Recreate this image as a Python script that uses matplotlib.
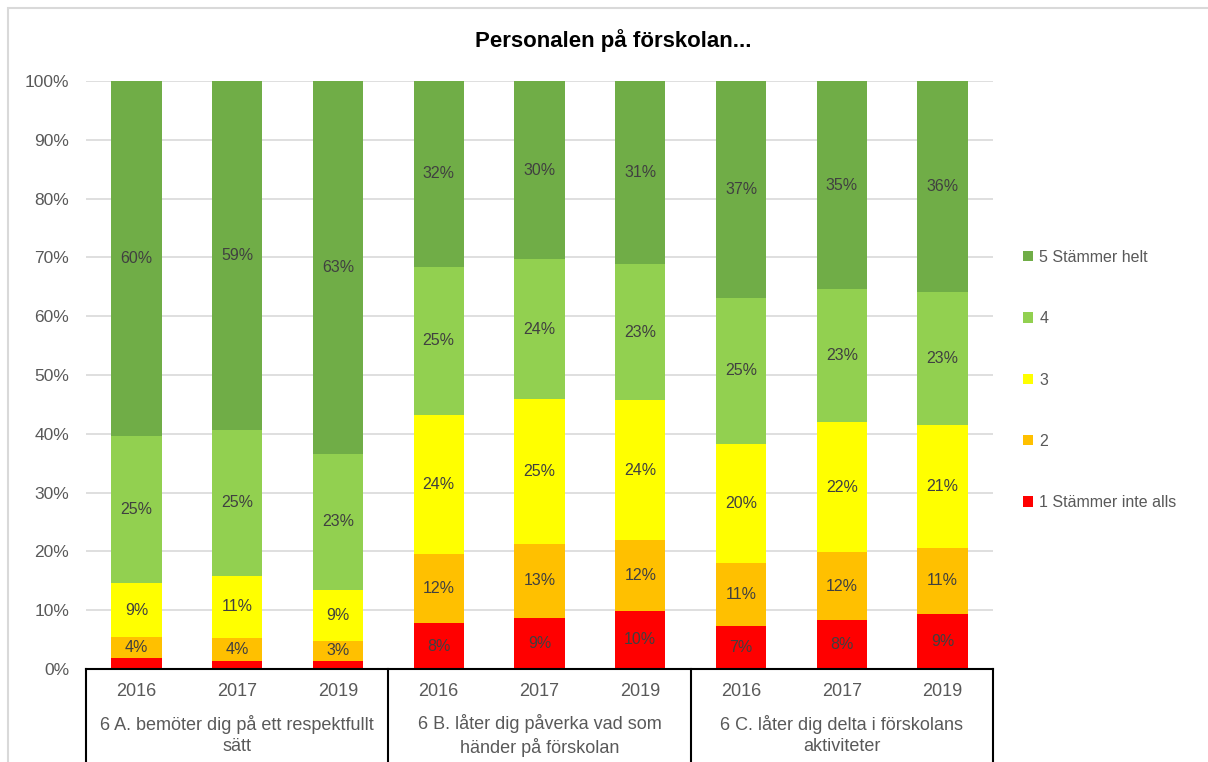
import matplotlib.pyplot as plt
import numpy as np
from matplotlib.patches import Rectangle
from matplotlib.transforms import blended_transform_factory

plt.rcParams['font.family'] = ['Liberation Sans', 'DejaVu Sans']

# Kategorier
years = ['2016', '2017', '2019'] * 3
groups = ['6 A. bemöter dig på ett respektfullt\nsätt',
          '6 B. låter dig påverka vad som\nhänder på förskolan',
          '6 C. låter dig delta i förskolans\naktiviteter']
series = ['1 Stämmer inte alls', '2', '3', '4', '5 Stämmer helt']
colors = ['#FF0000', '#FFC000', '#FFFF00', '#92D050', '#70AD47']

# Andelar i procent (avlästa)
s1 = [1.9, 1.4, 1.4, 7.8, 8.7, 9.9, 7.3, 8.3, 9.4]
s2 = [3.5, 3.9, 3.4, 11.8, 12.6, 12.0, 10.7, 11.6, 11.2]
s3 = [9.2, 10.6, 8.6, 23.6, 24.6, 23.8, 20.3, 22.1, 20.9]
s4 = [25.0, 24.7, 23.2, 25.2, 23.8, 23.2, 24.8, 22.6, 22.6]
s5 = [60.4, 59.4, 63.4, 31.6, 30.3, 31.1, 36.9, 35.4, 35.9]
data = [s1, s2, s3, s4, s5]

fig = plt.figure(figsize=(12.08, 7.62), dpi=100)
fig.patches.append(Rectangle((8, -20), 1230, 774, transform=None, fill=False,
                             edgecolor='#d9d9d9', linewidth=1.5))
ax = fig.add_axes([86/1208, 1 - 669/762, (993-86)/1208, (669-81)/762])

x = np.arange(len(years))
bottom = np.zeros(len(years))
handles = []
for name, vals, c in zip(series, data, colors):
    vals = np.array(vals)
    b = ax.bar(x, vals, 0.5, bottom=bottom, color=c, label=name, zorder=2)
    handles.append(b)
    for xi, v, bt in zip(x, vals, bottom):
        if v >= 2.5:
            ax.text(xi, bt + v / 2, f'{int(v + 0.5)}%', ha='center', va='center',
                    fontsize=11.5, color='#404040', zorder=3)
    bottom += vals

ax.set_xlim(-0.5, 8.5)
ax.set_ylim(0, 100)
ax.set_yticks(np.arange(0, 101, 10))
ax.set_yticklabels([f'{t}%' for t in range(0, 101, 10)])
ax.tick_params(axis='y', length=0, labelsize=12.5, labelcolor='#595959', pad=12)
ax.grid(axis='y', color='#d9d9d9', linewidth=1.2, zorder=0)
ax.set_axisbelow(True)
for s in ['top', 'right', 'left']:
    ax.spines[s].set_visible(False)
ax.spines['bottom'].set_color('black')
ax.spines['bottom'].set_linewidth(1.5)
ax.set_xticks([])

trans = blended_transform_factory(ax.transData, ax.transAxes)
for xi, yr in zip(x, years):
    ax.text(xi, -0.039, yr, transform=trans, ha='center', va='center',
            fontsize=13, color='#595959')
for gi, g in enumerate(groups):
    ax.text(gi * 3 + 1, -0.113, g, transform=trans, ha='center', va='center',
            fontsize=13, color='#595959', linespacing=1.3)
for xs in [-0.5, 2.5, 5.5, 8.5]:
    ax.plot([xs, xs], [0, -0.17], transform=trans, color='black',
            linewidth=1.5, clip_on=False)

fig.text(613/1208, 1 - 41/762, 'Personalen på förskolan...', fontsize=16,
         fontweight='bold', color='black', ha='center', va='center')

leg = fig.legend(handles[::-1], series[::-1], loc='center left',
                 bbox_to_anchor=(1009/1208, 1 - 380/762), frameon=False,
                 fontsize=11.5, labelcolor='#595959', handlelength=0.6,
                 handleheight=0.6, handletextpad=0.4, labelspacing=2.9)

fig.savefig('out.png', dpi=100)
